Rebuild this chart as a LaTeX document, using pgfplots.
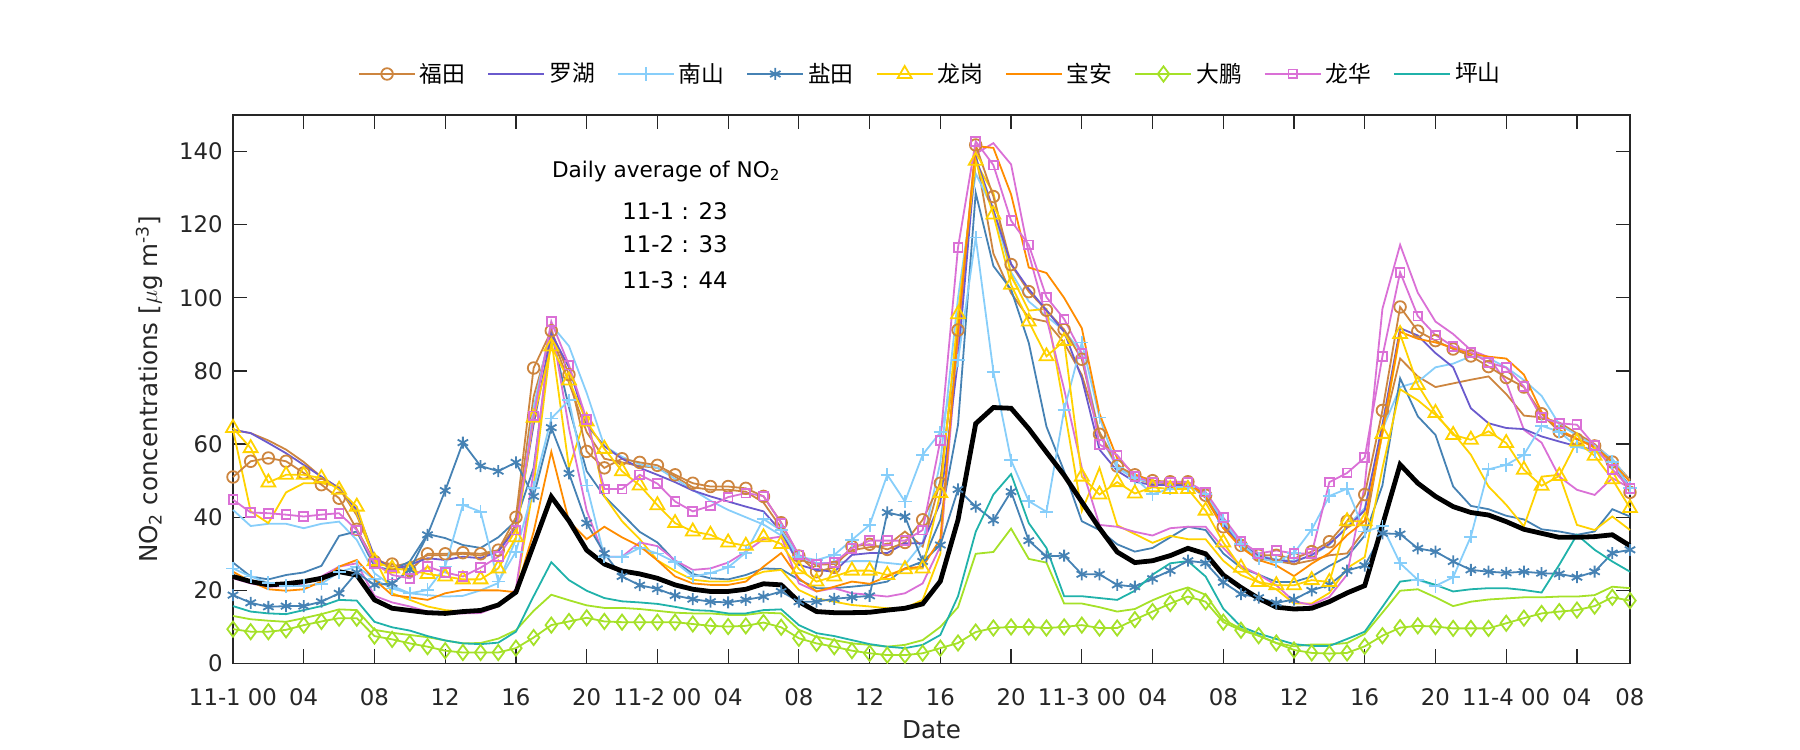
\documentclass[border=0pt]{standalone}
\usepackage{fontspec}
\setmainfont{DejaVu Sans}
\newfontfamily\cjk{Noto Sans CJK SC}
\usepackage{pgfplots}
\usepackage{pgfplotstable}
\pgfplotsset{compat=1.18}
\definecolor{cFT}{RGB}{205,133,63}
\definecolor{cLH}{RGB}{106,90,205}
\definecolor{cNS}{RGB}{135,206,250}
\definecolor{cYT}{RGB}{70,130,180}
\definecolor{cLG}{RGB}{255,210,0}
\definecolor{cBA}{RGB}{255,140,0}
\definecolor{cDP}{RGB}{165,225,40}
\definecolor{cLHua}{RGB}{218,112,214}
\definecolor{cPS}{RGB}{32,178,170}
\definecolor{axgray}{RGB}{38,38,38}

\pgfplotstableread[row sep=\\]{v\\
23.8\\22.4\\21.5\\21.8\\22.4\\23.3\\25.1\\24.2\\17.4\\15.1\\14.5\\13.9\\13.7\\14.2\\
14.5\\16\\19.5\\32.5\\45.6\\39\\31\\27.2\\25.3\\24.5\\23.3\\21.5\\20.3\\19.7\\
19.7\\20.3\\21.8\\21.5\\16.9\\14.2\\13.9\\13.9\\14\\14.6\\15.1\\16.3\\22.5\\
39.3\\65.6\\70\\69.8\\64.2\\57.8\\51.5\\44.2\\37\\30.5\\27.6\\28.1\\29.5\\
31.5\\30\\24.2\\20.8\\17.8\\15.4\\14.9\\15.1\\16.9\\19.3\\21.3\\37.8\\54.4\\
49.3\\45.7\\42.9\\41.3\\40.6\\38.8\\36.7\\35.6\\34.5\\34.5\\34.7\\35.2\\32.2\\
}\Tavg

\pgfplotstableread[row sep=\\]{v\\
51\\55.3\\56.2\\55.3\\52.1\\48.9\\45.2\\36.7\\27.9\\27.2\\25.4\\30\\30\\30.3\\
30\\31\\40\\80.8\\91\\79\\58\\53.5\\56\\55\\54.2\\51.6\\49.3\\48.4\\
48.4\\47.9\\45.7\\38.5\\29.4\\25.1\\26.3\\32\\32.6\\31.2\\33.1\\39.3\\49.3\\
91.2\\141.8\\127.7\\109.1\\101.7\\96.6\\91.3\\83.2\\62.7\\54\\51.6\\50\\49.7\\
49.7\\46\\37.4\\32.3\\29.6\\29.6\\28.7\\30.6\\33.3\\38.9\\46.2\\69.2\\97.5\\
90.9\\88.3\\86\\84.1\\81.2\\78.2\\75.6\\68.3\\63.4\\61.3\\59.5\\55.1\\46.8\\
}\Tft

\pgfplotstableread[row sep=\\]{v\\
63.9\\63\\61\\58.5\\55.1\\51\\48\\40.5\\28.8\\26.5\\27.5\\29.6\\29.6\\30\\
29.5\\30.8\\38\\73\\90\\76.8\\63.3\\56\\55\\54\\53.5\\51.1\\48.2\\47.5\\
47.5\\47\\44\\37.1\\28.5\\27\\27.2\\31\\31.8\\32.3\\36.1\\32\\50\\
90.6\\139.4\\112.1\\101.3\\94.5\\93.5\\87.7\\78.9\\63.3\\54.5\\50.6\\49.2\\49.2\\
49.2\\45.3\\37\\32.1\\28.7\\28\\27.2\\28.2\\29.6\\30.1\\36.5\\63.3\\83.4\\
78.5\\75.6\\76.6\\77.6\\78.5\\73.7\\67.8\\67.3\\65.9\\62.9\\60\\55.6\\50.2\\
}\Tfttwo

\pgfplotstableread[row sep=\\]{v\\
63.9\\63\\60.3\\57.5\\54.3\\51.1\\47.9\\42\\29.2\\25.6\\27\\28.8\\28.3\\29.2\\
28.8\\30.6\\37\\65.3\\90.2\\81\\65.3\\59.4\\56\\53.5\\51.6\\49.6\\47.3\\45.7\\
44.3\\42.9\\41.6\\36.1\\27\\25.6\\25.1\\29.7\\30.2\\30.2\\32.9\\32.9\\44\\
83\\138.5\\124\\109.3\\102.4\\96.6\\90.7\\78\\58.5\\52.7\\49.7\\48.8\\48.8\\
48.8\\45.8\\38\\32.7\\29.3\\28.3\\27.8\\29.7\\32.7\\37.1\\41.9\\65.4\\91.7\\
89.7\\84.9\\81\\69.8\\65.7\\64.4\\64.1\\62.1\\60.7\\59.4\\58.4\\54.8\\48.4\\
}\Tlh

\pgfplotstableread[row sep=\\]{v\\
26\\23.8\\22\\21.2\\21.2\\21.8\\25\\26.5\\23\\20.5\\19.2\\20.1\\26.5\\43.4\\
41.5\\22.4\\30.6\\48\\67\\72\\48.7\\29.2\\29.2\\31.6\\30.1\\27.7\\23.8\\24.7\\
26.3\\30.3\\39.5\\36.4\\29.2\\28.3\\29.7\\33.8\\37.9\\51.6\\44.3\\57.1\\63.2\\
82.9\\116.5\\79.8\\55.6\\44.4\\41.5\\69.3\\87.8\\67.3\\53.6\\50.7\\46.3\\47.8\\
48.3\\46.3\\39\\32.7\\28.8\\27.8\\30.2\\36.6\\45.8\\47.8\\36.1\\37.5\\27.4\\
22.9\\21.2\\23.6\\34.7\\53.1\\54.3\\57.1\\65\\63.4\\59.3\\58\\55.1\\48\\
}\Tns

\pgfplotstableread[row sep=\\]{v\\
42\\37.6\\38.2\\38.2\\37\\38.2\\38.8\\33.8\\24.7\\21.2\\19.2\\18.7\\18.3\\18.5\\
20\\22\\34\\70\\92.6\\86.8\\74\\59.5\\56.5\\54.5\\53.5\\50.5\\47.5\\44.5\\
42\\40\\38\\35\\29\\27.5\\27.5\\28\\28\\27.5\\27\\33\\55\\
100\\134\\124\\107\\99\\95\\91\\85\\62.5\\53.5\\50.5\\49.5\\48.5\\
48.5\\46.5\\38.5\\33.5\\29.5\\28.5\\28\\29.5\\32.5\\37.5\\42.5\\64\\75.6\\
77\\81\\82\\84\\83.5\\81\\77.5\\73.2\\65.4\\62.4\\59.5\\56\\49.7\\
}\Tnstwo

\pgfplotstableread[row sep=\\]{v\\
18.7\\16.6\\15.5\\15.7\\15.7\\16.9\\19.2\\24.9\\21.5\\21.9\\25.6\\35.2\\47.3\\60.4\\
54\\52.6\\55\\45.7\\64.5\\52\\38.4\\30.1\\23.8\\21.4\\20.4\\18.6\\17.6\\16.9\\
16.7\\17.4\\18.3\\19.7\\16.9\\16.9\\17.7\\18.1\\18.5\\41.3\\40.2\\27.9\\32.4\\
47.6\\42.9\\39.2\\47\\33.6\\29.3\\29.5\\24.4\\24.4\\21.5\\21\\23.2\\25.4\\
28.1\\27.5\\22.2\\19\\18\\16.6\\17.5\\20\\21.5\\25.4\\26.8\\35.6\\35.4\\
31.5\\30.6\\27.9\\25.6\\25.1\\24.8\\25.1\\24.7\\24.5\\23.6\\25.1\\30.2\\31.1\\
}\Tyt

\pgfplotstableread[row sep=\\]{v\\
27.6\\23.8\\23\\24.2\\24.9\\26.7\\34.9\\36.1\\26.5\\25.6\\27.9\\35.4\\34.3\\32.4\\
31.6\\34.5\\39\\53.5\\90.6\\70\\52.6\\45.7\\40.9\\36\\33.1\\28\\24.5\\23.3\\
23\\24.2\\26\\25.8\\22.9\\20.6\\20.6\\21\\21.5\\22.4\\26\\27.9\\39.3\\
65.3\\128.7\\108.7\\102.3\\87.7\\64.8\\52.6\\38.9\\36.5\\32.6\\30.6\\31.6\\34.5\\
37.4\\36.5\\30.1\\26.2\\24.3\\22.3\\22.3\\23.8\\26.7\\29.2\\35\\48.7\\78\\
67.6\\62.5\\48.4\\43.1\\42.2\\40.4\\39.4\\36.7\\36.1\\35.2\\36.1\\42.2\\40.2\\
}\Tyttwo

\pgfplotstableread[row sep=\\]{v\\
64.4\\58.9\\49.5\\51.6\\51.6\\50.7\\47.5\\42.9\\28\\26\\25.5\\24.5\\23.8\\23\\
23\\26\\34.5\\67.2\\86.7\\77.4\\66.2\\58.7\\52.6\\48.7\\43.3\\38.4\\36.1\\35.2\\
33.1\\32.2\\34.5\\32.7\\25.8\\22.4\\23.8\\25.4\\25.4\\24.2\\25.8\\26\\46.6\\
95.5\\137.5\\122.8\\103.6\\93.5\\84\\88.2\\51.1\\46.2\\49.6\\46.5\\48.2\\47.7\\
47.7\\41.8\\33.1\\26.2\\22.3\\21.4\\21.4\\22.8\\22.3\\38.9\\38.9\\62.8\\90.1\\
76.2\\68.5\\62.5\\61.2\\63.5\\60.3\\53\\48.6\\51.3\\60.7\\56.8\\50.4\\42.5\\
}\Tlg

\pgfplotstableread[row sep=\\]{v\\
63.9\\41.6\\38.4\\46.8\\49.3\\49.3\\48.4\\41.1\\28.8\\19.2\\17.4\\15.6\\14.6\\14.2\\
14.5\\16\\20\\48.7\\88.7\\53.5\\68.2\\45.7\\38.9\\34\\28.2\\25.3\\22.9\\22.4\\
22.4\\23.3\\25.1\\25.6\\20.1\\17.8\\16.9\\16\\15.6\\15.1\\15.1\\17.4\\30\\
94.5\\137\\128.7\\106.2\\96.5\\97\\70\\41.7\\53.5\\37.8\\35.4\\33\\34.9\\
34\\34\\28.1\\24.2\\22.2\\20.3\\16.4\\16.4\\19.3\\26.1\\29.1\\53.4\\75\\
72\\68\\63\\57.1\\48.4\\43.4\\37.5\\51.1\\51.6\\37.9\\36.5\\40.2\\36.5\\
}\Tlgtwo

\pgfplotstableread[row sep=\\]{v\\
25.1\\22.4\\20.3\\19.9\\20.3\\22.4\\26.5\\28.3\\22.9\\18.7\\18.1\\17.4\\19.2\\20.1\\
20\\20\\19.5\\36\\57.9\\38.9\\34\\37.4\\34.5\\32.1\\28.2\\23.8\\21.9\\21.5\\
21.5\\22.4\\26.5\\30.2\\23.3\\19.7\\21\\22.4\\21.8\\23.8\\26\\26.5\\34\\
90.7\\141.5\\141\\128.3\\108.3\\106.8\\100\\91.7\\68.3\\56.1\\51.7\\49.7\\49.3\\
49.3\\45.8\\37.1\\31.7\\28.3\\26.8\\23.9\\27.3\\30.2\\35.1\\39\\63.4\\90.7\\
88.8\\87.8\\86.3\\84.7\\83.9\\83.4\\79\\68.8\\63.9\\61.5\\59\\55.1\\49.7\\
}\Tba

\pgfplotstableread[row sep=\\]{v\\
9.4\\8.7\\8.7\\9.2\\10.5\\11.5\\12.4\\12.4\\7.5\\6.6\\5.5\\4.6\\3.5\\3\\
3\\3\\4.2\\7.1\\10.5\\11.5\\12.5\\11.5\\11.3\\11.3\\11.3\\11.3\\10.8\\10.3\\
10.1\\10.3\\11.2\\9.9\\6.9\\5.5\\4.6\\3.5\\2.8\\2.3\\2.3\\2.8\\4.2\\
5.6\\8.6\\9.7\\10\\10\\9.7\\10\\10.5\\9.7\\9.7\\12\\14.2\\16.4\\
18.3\\16.9\\11.3\\9.1\\7.6\\5.6\\3.7\\2.9\\2.7\\2.9\\4.7\\7.6\\9.8\\
10.3\\10.1\\9.6\\9.6\\9.6\\11\\12.4\\13.7\\14.2\\14.6\\15.7\\18.1\\17.2\\
}\Tdp

\pgfplotstableread[row sep=\\]{v\\
13\\12.1\\11.7\\11.4\\12.4\\13.5\\14.8\\14.6\\9.2\\8.4\\7.8\\7.2\\6.3\\5.5\\
5.6\\6.8\\9.1\\14.4\\18.8\\17.3\\15.9\\15.2\\15.2\\14.9\\14.4\\13.9\\13.7\\13.7\\
13.3\\13.3\\13.9\\13.7\\9.2\\7.3\\6.4\\5.5\\5.1\\4.6\\5.1\\6.4\\10\\
15.4\\30\\30.5\\36.9\\28.6\\27.6\\16.4\\16.4\\15.4\\14.2\\14.9\\17.3\\19.3\\
20.8\\18.8\\12\\9.5\\7.6\\5.6\\4.7\\5.2\\5.2\\5.6\\8.1\\13.9\\19.9\\
20.3\\18.1\\15.7\\16.9\\17.5\\17.8\\18.1\\18.1\\18.3\\18.3\\18.7\\21\\20.6\\
}\Tdptwo

\pgfplotstableread[row sep=\\]{v\\
44.8\\41.3\\41.1\\40.7\\40.2\\40.7\\41.1\\36.5\\27.4\\24.2\\23.3\\26.5\\24.9\\23.8\\
26.2\\29.2\\36.5\\67.7\\93.5\\81.6\\66.7\\47.7\\47.7\\51.6\\49.2\\44.3\\41.6\\43.1\\
45.5\\46.6\\45.8\\38.4\\29.7\\27.2\\27.6\\31.5\\33.6\\33.6\\33.6\\36.5\\61\\
113.8\\142.8\\136.3\\121.1\\114.5\\100.2\\94.2\\84.8\\59.9\\57\\51.1\\49.6\\49.6\\
49.6\\46.9\\39.9\\33.5\\30.1\\30.9\\30.1\\30.1\\49.6\\52.1\\56.3\\84\\107\\
95\\89.8\\86.7\\85.1\\82.3\\80.9\\75.8\\67.2\\65.7\\65.3\\59.6\\53.1\\47.9\\
}\Tlhua

\pgfplotstableread[row sep=\\]{v\\
23.3\\21.9\\21\\21.2\\21.9\\23.8\\26.5\\27.4\\18.5\\16.7\\15.6\\14.2\\13.7\\13.7\\
13.8\\15.7\\20.4\\52.6\\92.6\\64.3\\41.8\\29.2\\29.2\\33.1\\32.1\\28.2\\25.6\\26\\
27.6\\30.6\\34\\34.7\\21.9\\19.7\\20.6\\19.2\\18.8\\18.3\\19.2\\21.9\\32\\
87.7\\139.4\\142.3\\136.5\\112.1\\94.5\\75\\53.5\\37.9\\37.4\\36\\35\\37\\
37.4\\37.4\\31.6\\26.7\\24.3\\21.4\\17\\16\\18.2\\24.3\\48.7\\97\\114.5\\
101.4\\93.5\\90.1\\85.7\\83.8\\77\\63.9\\60.4\\51.1\\47.5\\46.1\\50.7\\48\\
}\Tlhuatwo

\pgfplotstableread[row sep=\\]{v\\
15.7\\14.2\\13.7\\13.5\\14.6\\15.7\\17.4\\17.2\\11.4\\9.9\\9\\7.5\\6.3\\5.5\\
5.3\\5.7\\8.7\\18.4\\27.7\\22.8\\19.9\\17.9\\17\\16.7\\16.3\\15.5\\14.6\\14.4\\
13.7\\13.7\\14.6\\14.8\\10.5\\8.3\\7.5\\6.4\\5.3\\4.6\\4.2\\5.1\\7.8\\
18.4\\36\\46.2\\51.8\\38.4\\31.6\\18.4\\18.4\\17.9\\17.4\\19.9\\24.3\\27.4\\
28\\23.8\\15\\10.1\\8.2\\6.7\\5.3\\4.8\\4.8\\6.7\\8.7\\15.5\\22.4\\
23\\21.5\\19.7\\20.3\\20.6\\20.6\\20.1\\19.4\\27\\35.2\\31.1\\27.9\\25.1\\
}\Tps

\begin{document}
\begin{tikzpicture}
\useasboundingbox (0,0) rectangle (900pt,375pt);
\begin{axis}[
  at={(116.5pt,43.25pt)}, anchor=south west,
  width=698.5pt, height=274.25pt, scale only axis,
  xmin=0, xmax=79, ymin=0, ymax=150,
  xtick={0,4,...,76,79},
  xticklabels={11-1 00,04,08,12,16,20,11-2 00,04,08,12,16,20,11-3 00,04,08,12,16,20,11-4 00,04,08},
  ytick={0,20,...,140},
  tick align=inside, tick pos=both,
  major tick length=7pt,
  axis line style={draw=axgray, line width=0.6pt},
  every tick/.style={draw=axgray, line width=0.6pt},
  tick label style={font=\fontsize{11.4}{13}\selectfont, text=axgray},
  /pgf/number format/assume math mode=true,
  xticklabel style={yshift=-9pt},
  yticklabel style={xshift=-1.7pt},
  xlabel={Date},
  ylabel={NO\textsubscript{2} concentrations [$\mu$g m\textsuperscript{-3}]},
  every axis x label/.style={at={(axis description cs:0.5,-0.1212)}, anchor=center,
    font=\fontsize{12.3}{14}\selectfont, text=axgray},
  every axis y label/.style={at={(axis description cs:-0.0601,0.5)}, anchor=center, rotate=90,
    font=\fontsize{12.3}{14}\selectfont, text=axgray},
  clip=false,
  legend style={at={(0.5,1)}, anchor=center, yshift=20.5pt, draw=none, fill=none,
    legend columns=9, font=\cjk\fontsize{11.4}{13}\selectfont,
    /tikz/every even column/.append style={column sep=9pt}},
  legend image code/.code={\draw[mark repeat=2,mark phase=2] plot coordinates {(0pt,0pt) (14pt,0pt) (28pt,0pt)};},
  every axis plot/.append style={line width=0.9pt},
]
% secondary station lines
\addplot[cFT, forget plot] table[x expr=\coordindex, y=v]{\Tfttwo};
\addplot[cNS, forget plot] table[x expr=\coordindex, y=v]{\Tnstwo};
\addplot[cYT, forget plot] table[x expr=\coordindex, y=v]{\Tyttwo};
\addplot[cLG, forget plot] table[x expr=\coordindex, y=v]{\Tlgtwo};
\addplot[cDP, forget plot] table[x expr=\coordindex, y=v]{\Tdptwo};
\addplot[cLHua, forget plot] table[x expr=\coordindex, y=v]{\Tlhuatwo};
% main series
\addplot[cFT, mark=o, mark size=2.9pt] table[x expr=\coordindex, y=v]{\Tft};
\addlegendentry{福田}
\addplot[cLH] table[x expr=\coordindex, y=v]{\Tlh};
\addlegendentry{罗湖}
\addplot[cNS, mark=+, mark size=3.3pt] table[x expr=\coordindex, y=v]{\Tns};
\addlegendentry{南山}
\addplot[cYT, mark=asterisk, mark size=3pt] table[x expr=\coordindex, y=v]{\Tyt};
\addlegendentry{盐田}
\addplot[cLG, mark=triangle, mark size=4pt] table[x expr=\coordindex, y=v]{\Tlg};
\addlegendentry{龙岗}
\addplot[cBA] table[x expr=\coordindex, y=v]{\Tba};
\addlegendentry{宝安}
\addplot[cDP, mark=diamond, mark size=3.8pt] table[x expr=\coordindex, y=v]{\Tdp};
\addlegendentry{大鹏}
\addplot[cLHua, mark=square, mark size=2.2pt] table[x expr=\coordindex, y=v]{\Tlhua};
\addlegendentry{龙华}
\addplot[cPS] table[x expr=\coordindex, y=v]{\Tps};
\addlegendentry{坪山}
% average
\addplot[black, line width=2.4pt, forget plot] table[x expr=\coordindex, y=v]{\Tavg};
% annotation
\node[font=\fontsize{10.8}{13}\selectfont, text=black] at (axis cs:24.5,134.6) {Daily average of NO\textsubscript{2}};
\node[font=\fontsize{11.4}{13}\selectfont, text=black] at (axis cs:25.0,123.6) {11-1 : 23};
\node[font=\fontsize{11.4}{13}\selectfont, text=black] at (axis cs:25.0,114.6) {11-2 : 33};
\node[font=\fontsize{11.4}{13}\selectfont, text=black] at (axis cs:25.0,104.9) {11-3 : 44};
\end{axis}
\end{tikzpicture}
\end{document}
